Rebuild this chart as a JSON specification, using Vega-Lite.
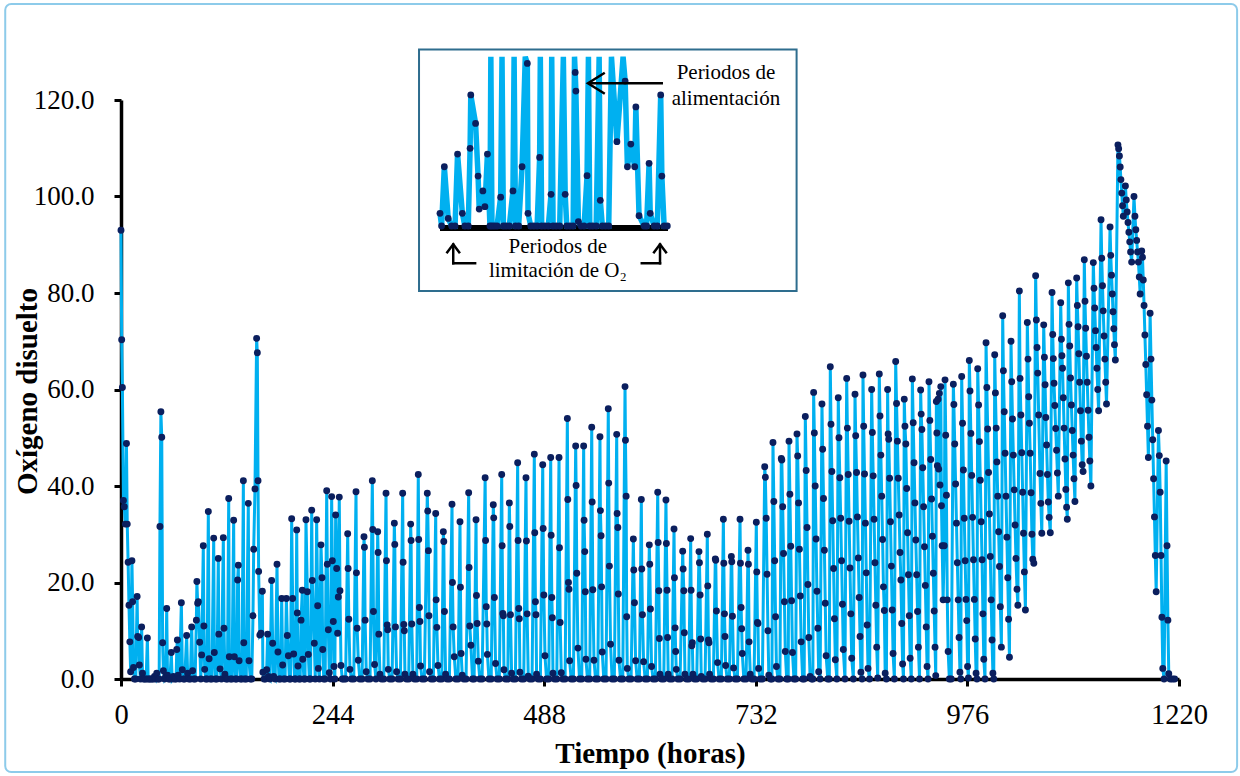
{
  "$schema": "https://vega.github.io/schema/vega-lite/v6.json",
  "width": 1058,
  "height": 579,
  "autosize": "none",
  "padding": {"left": 121, "top": 100, "right": 61, "bottom": 97},
  "background": "white",
  "config": {"view": {"stroke": null}, "font": "Liberation Serif"},
  "resolve": {"scale": {"x": "independent", "y": "independent"}},
  "datasets": {
    "serie": [
      {"h":0,"od":93.0},{"h":0.8,"od":70.3},{"h":1.6,"od":60.4},{"h":2.8,"od":37.0},{"h":3.8,"od":35.7},{"h":5.0,"od":32.1},
      {"h":6.3,"od":48.8},{"h":7.2,"od":32.1},{"h":8.2,"od":24.2},{"h":9.2,"od":15.3},{"h":10.2,"od":7.7},{"h":11.1,"od":1.5},
      {"h":12.6,"od":24.5},{"h":13.4,"od":16.0},{"h":14.4,"od":2.4},{"h":15.5,"od":0},{"h":17.0,"od":0},{"h":18.6,"od":17.1},
      {"h":19.2,"od":8.8},{"h":20.4,"od":8.6},{"h":21.2,"od":2.9},{"h":22.5,"od":0},{"h":23.8,"od":10.8},{"h":24.8,"od":1.2},
      {"h":26.0,"od":0},{"h":27.5,"od":0},{"h":29.0,"od":0},{"h":30.4,"od":8.5},{"h":31.3,"od":0},{"h":32.8,"od":0},
      {"h":34.2,"od":0},{"h":35.8,"od":0},{"h":37.2,"od":0},{"h":38.6,"od":0.5},{"h":40.0,"od":0},{"h":41.2,"od":1.2},
      {"h":42.6,"od":0},{"h":44.0,"od":0},{"h":44.9,"od":31.6},{"h":46.0,"od":55.4},{"h":47.0,"od":50.1},{"h":48.0,"od":7.5},
      {"h":48.9,"od":1.7},{"h":50.2,"od":0},{"h":51.6,"od":0.5},{"h":52.7,"od":14.6},{"h":53.6,"od":0.8},{"h":55.0,"od":0},
      {"h":56.5,"od":0},{"h":58.0,"od":5.5},{"h":59.0,"od":0},{"h":60.5,"od":0.5},{"h":62.0,"od":0},{"h":63.5,"od":0},
      {"h":64.3,"od":6.1},{"h":65.0,"od":8.1},{"h":66.0,"od":0.8},{"h":67.5,"od":0},{"h":69.6,"od":15.8},{"h":70.7,"od":1.9},
      {"h":72.0,"od":0},{"h":73.5,"od":0},{"h":75.7,"od":9.0},{"h":76.8,"od":1.2},{"h":78.3,"od":0},{"h":80.0,"od":0},
      {"h":81.5,"od":10.8},{"h":82.6,"od":1.7},{"h":84.0,"od":0},{"h":85.5,"od":0},{"h":86.9,"od":12.2},{"h":87.5,"od":20.2},
      {"h":88.4,"od":15.7},{"h":89.2,"od":16.0},{"h":90.7,"od":7.6},{"h":92.0,"od":0},{"h":93.0,"od":5.0},{"h":94.9,"od":27.6},
      {"h":95.6,"od":11.0},{"h":96.5,"od":2.0},{"h":97.8,"od":0},{"h":99.2,"od":0},{"h":100.7,"od":34.7},{"h":101.6,"od":4.2},
      {"h":103.0,"od":0},{"h":104.8,"od":0},{"h":106.9,"od":29.2},{"h":107.6,"od":5.5},{"h":109.0,"od":0},{"h":110.6,"od":0},
      {"h":112.2,"od":25.0},{"h":112.8,"od":9.3},{"h":114.2,"od":2.1},{"h":115.8,"od":0},{"h":118.0,"od":29.3},{"h":118.8,"od":10.5},
      {"h":119.8,"od":1.0},{"h":121.2,"od":0},{"h":122.7,"od":0},{"h":124.2,"od":37.4},{"h":124.9,"od":4.6},{"h":126.3,"od":0},
      {"h":128.0,"od":0},{"h":129.9,"od":32.9},{"h":130.7,"od":4.6},{"h":132.0,"od":0},{"h":133.3,"od":0},{"h":134.5,"od":20.5},
      {"h":135.3,"od":23.6},{"h":136.2,"od":3.8},{"h":137.8,"od":0},{"h":139.4,"od":0},{"h":141.1,"od":41.1},{"h":141.6,"od":7.5},
      {"h":142.8,"od":0},{"h":144.4,"od":0},{"h":146.8,"od":36.4},{"h":147.6,"od":3.8},{"h":149.2,"od":0},{"h":150.8,"od":0},
      {"h":152.2,"od":13.1},{"h":153.0,"od":26.9},{"h":154.5,"od":39.4},{"h":156.4,"od":70.6},{"h":157.2,"od":67.6},{"h":158.0,"od":41.1},
      {"h":158.7,"od":22.3},{"h":160.1,"od":9.1},{"h":161.4,"od":9.5},{"h":163.0,"od":18.2},{"h":163.6,"od":1.4},{"h":165.0,"od":0},
      {"h":166.6,"od":0},{"h":168.0,"od":1.9},{"h":169.1,"od":9.3},{"h":170.0,"od":0.5},{"h":171.8,"od":0},{"h":173.7,"od":20.4},
      {"h":174.9,"od":7.4},{"h":176.0,"od":0.5},{"h":177.8,"od":0},{"h":179.9,"od":23.8},{"h":181.0,"od":5.6},{"h":182.2,"od":0},
      {"h":183.8,"od":0},{"h":185.3,"od":16.7},{"h":186.4,"od":2.9},{"h":187.6,"od":0},{"h":189.2,"od":0},{"h":190.7,"od":16.7},
      {"h":191.8,"od":9.0},{"h":193.0,"od":4.8},{"h":194.2,"od":0},{"h":195.5,"od":0},{"h":196.8,"od":33.2},{"h":197.9,"od":16.7},
      {"h":199.1,"od":5.2},{"h":200.2,"od":0},{"h":201.4,"od":0},{"h":202.6,"od":30.9},{"h":203.3,"od":13.7},{"h":204.1,"od":2.7},
      {"h":205.3,"od":0},{"h":206.6,"od":0},{"h":207.6,"od":12.2},{"h":209.1,"od":18.4},{"h":209.6,"od":4.1},{"h":211.0,"od":0},
      {"h":212.2,"od":0},{"h":213.3,"od":33.0},{"h":214.9,"od":18.1},{"h":216.0,"od":5.1},{"h":217.2,"od":0},{"h":218.6,"od":0},
      {"h":219.9,"od":35.0},{"h":220.6,"od":20.4},{"h":222.9,"od":7.4},{"h":224.0,"od":0},{"h":225.6,"od":33.0},{"h":226.8,"od":15.2},
      {"h":227.6,"od":2.2},{"h":228.8,"od":0},{"h":230.6,"od":27.8},{"h":231.8,"od":21.0},{"h":232.6,"od":6.1},{"h":233.8,"od":0},
      {"h":235.4,"od":0},{"h":237.2,"od":39.0},{"h":237.9,"od":23.8},{"h":239.1,"od":10.2},{"h":240.2,"od":1.3},{"h":241.6,"od":0},
      {"h":242.9,"od":37.8},{"h":243.7,"od":24.5},{"h":244.8,"od":11.9},{"h":245.6,"od":2.6},{"h":246.6,"od":0},{"h":247.5,"od":34.0},
      {"h":248.7,"od":22.9},{"h":249.8,"od":9.5},{"h":250.6,"od":17.0},{"h":251.7,"od":37.7},{"h":252.5,"od":18.3},{"h":253.7,"od":2.8},
      {"h":255.2,"od":0},{"h":257.0,"od":0},{"h":259.0,"od":0},
      {"h":261.4,"od":30.1},{"h":261.9,"od":22.9},{"h":262.7,"od":12.4},{"h":264.0,"od":2.0},{"h":265.8,"od":0},{"h":268.4,"od":0},
      {"h":271.0,"od":38.8},{"h":271.5,"od":22.0},{"h":272.3,"od":10.5},{"h":273.6,"od":3.9},{"h":275.4,"od":0},{"h":278.0,"od":0},
      {"h":280.2,"od":29.5},{"h":280.7,"od":27.3},{"h":281.5,"od":12.2},{"h":282.8,"od":1.5},{"h":284.6,"od":0},{"h":287.2,"od":0},
      {"h":289.8,"od":41.1},{"h":290.3,"od":31.0},{"h":291.1,"od":14.0},{"h":292.4,"od":3.0},{"h":294.0,"od":0},
      {"h":296.0,"od":30.5},{"h":296.5,"od":26.2},{"h":297.3,"od":9.3},{"h":298.6,"od":1.0},{"h":300.4,"od":0},{"h":303.0,"od":0},
      {"h":305.6,"od":38.5},{"h":306.1,"od":24.5},{"h":306.9,"od":11.2},{"h":307.5,"od":10.2},{"h":308.2,"od":2.0},{"h":310.0,"od":0},{"h":312.6,"od":0},
      {"h":315.2,"od":32.3},{"h":315.7,"od":27.9},{"h":316.5,"od":10.8},{"h":317.8,"od":1.5},{"h":319.6,"od":0},{"h":322.2,"od":0},
      {"h":324.8,"od":38.5},{"h":325.3,"od":24.2},{"h":326.1,"od":11.3},{"h":326.7,"od":10.0},{"h":327.4,"od":1.0},{"h":329.2,"od":0},{"h":331.8,"od":0},
      {"h":334.0,"od":32.1},{"h":334.5,"od":28.7},{"h":335.3,"od":11.4},{"h":336.6,"od":1.0},{"h":338.4,"od":0},{"h":341.0,"od":0},
      {"h":342.8,"od":42.4},{"h":343.3,"od":28.9},{"h":344.1,"od":14.8},{"h":344.7,"od":11.9},{"h":345.4,"od":2.7},{"h":347.2,"od":0},{"h":349.8,"od":0},
      {"h":353.2,"od":38.5},{"h":353.7,"od":34.8},{"h":354.5,"od":26.6},{"h":355.1,"od":13.1},{"h":355.8,"od":1.5},{"h":357.6,"od":0},{"h":360.2,"od":0},
      {"h":362.9,"od":34.3},{"h":363.4,"od":16.4},{"h":364.2,"od":10.7},{"h":365.5,"od":2.8},{"h":367.3,"od":0},{"h":369.9,"od":0},
      {"h":371.7,"od":30.5},{"h":372.2,"od":28.5},{"h":373.0,"od":14.0},{"h":374.3,"od":1.0},{"h":376.1,"od":0},{"h":378.7,"od":0},
      {"h":381.7,"od":36.2},{"h":382.2,"od":20.0},{"h":383.0,"od":10.8},{"h":384.3,"od":4.6},{"h":386.1,"od":0},{"h":388.7,"od":0},
      {"h":390.9,"od":32.6},{"h":391.4,"od":19.0},{"h":392.2,"od":5.3},{"h":393.5,"od":0.8},{"h":395.3,"od":0},{"h":397.9,"od":0},
      {"h":400.9,"od":38.6},{"h":401.4,"od":23.1},{"h":402.2,"od":11.0},{"h":403.5,"od":7.0},{"h":405.3,"od":0},{"h":407.2,"od":0},
      {"h":409.4,"od":33.0},{"h":409.9,"od":17.3},{"h":410.7,"od":11.5},{"h":412.0,"od":3.7},{"h":413.8,"od":0},{"h":416.4,"od":0},
      {"h":419.9,"od":41.7},{"h":420.4,"od":28.7},{"h":421.2,"od":15.0},{"h":421.8,"od":11.4},{"h":422.5,"od":5.1},{"h":424.3,"od":0},{"h":426.9,"od":0},
      {"h":429.3,"od":36.1},{"h":429.8,"od":33.4},{"h":430.6,"od":16.9},{"h":431.9,"od":3.2},{"h":433.7,"od":0},{"h":436.3,"od":0},
      {"h":439.0,"od":42.4},{"h":439.5,"od":27.6},{"h":440.3,"od":13.6},{"h":440.9,"od":13.1},{"h":441.6,"od":1.9},{"h":443.4,"od":0},{"h":446.0,"od":0},
      {"h":447.8,"od":36.5},{"h":448.3,"od":31.6},{"h":449.1,"od":13.3},{"h":450.4,"od":1.2},{"h":452.2,"od":0},{"h":454.8,"od":0},
      {"h":457.4,"od":44.8},{"h":457.9,"od":28.7},{"h":458.7,"od":14.6},{"h":459.3,"od":12.5},{"h":460.0,"od":1.4},{"h":461.8,"od":0},{"h":464.4,"od":0},
      {"h":467.0,"od":41.7},{"h":467.5,"od":28.6},{"h":468.3,"od":13.5},{"h":469.6,"od":0.6},{"h":471.4,"od":0},{"h":474.0,"od":0},
      {"h":476.6,"od":46.6},{"h":477.1,"od":30.3},{"h":477.9,"od":16.0},{"h":478.5,"od":13.3},{"h":479.2,"od":1.0},{"h":481.0,"od":0},{"h":483.6,"od":0},
      {"h":486.3,"od":44.4},{"h":486.8,"od":31.2},{"h":487.6,"od":17.4},{"h":488.9,"od":4.8},{"h":490.7,"od":0},{"h":493.3,"od":0},
      {"h":495.5,"od":45.9},{"h":496.0,"od":29.8},{"h":496.8,"od":16.9},{"h":497.4,"od":12.7},{"h":498.1,"od":1.2},{"h":499.9,"od":0},{"h":502.5,"od":0},
      {"h":505.1,"od":45.9},{"h":505.6,"od":27.2},{"h":506.4,"od":11.7},{"h":507.7,"od":1.3},{"h":509.5,"od":0},{"h":512.1,"od":0},
      {"h":514.7,"od":54.0},{"h":515.2,"od":37.2},{"h":516.0,"od":20.0},{"h":516.6,"od":18.6},{"h":517.3,"od":3.8},{"h":519.1,"od":0},{"h":521.7,"od":0},
      {"h":524.3,"od":48.3},{"h":524.8,"od":40.1},{"h":525.6,"od":21.9},{"h":526.9,"od":6.4},{"h":528.7,"od":0},{"h":531.3,"od":0},
      {"h":533.5,"od":48.3},{"h":534.0,"od":32.9},{"h":534.8,"od":26.4},{"h":535.4,"od":18.1},{"h":536.1,"od":4.1},{"h":537.9,"od":0},{"h":540.5,"od":0},
      {"h":542.8,"od":52.2},{"h":543.3,"od":36.7},{"h":544.1,"od":18.5},{"h":545.4,"od":3.9},{"h":547.2,"od":0},{"h":549.8,"od":0},
      {"h":552.3,"od":50.2},{"h":552.8,"od":34.9},{"h":553.6,"od":29.7},{"h":554.2,"od":19.1},{"h":554.9,"od":5.6},{"h":556.7,"od":0},{"h":559.3,"od":0},
      {"h":561.9,"od":56.0},{"h":562.4,"od":40.6},{"h":563.2,"od":23.4},{"h":564.5,"od":7.2},{"h":566.3,"od":0},{"h":568.9,"od":0},
      {"h":571.6,"od":50.7},{"h":572.1,"od":34.3},{"h":572.9,"od":31.4},{"h":573.5,"od":17.6},{"h":574.2,"od":3.9},{"h":576.0,"od":0},{"h":578.6,"od":0},
      {"h":581.2,"od":60.6},{"h":581.7,"od":49.5},{"h":582.5,"od":37.9},{"h":583.1,"od":12.9},{"h":583.8,"od":2.2},{"h":585.6,"od":0},{"h":588.2,"od":0},
      {"h":590.8,"od":29.0},{"h":591.3,"od":22.6},{"h":592.1,"od":15.8},{"h":593.4,"od":3.8},{"h":595.2,"od":0},{"h":597.8,"od":0},
      {"h":600.0,"od":37.2},{"h":600.5,"od":22.8},{"h":601.3,"od":13.3},{"h":602.6,"od":3.6},{"h":604.4,"od":0},{"h":607.0,"od":0},
      {"h":609.2,"od":27.8},{"h":609.7,"od":23.8},{"h":610.5,"od":14.5},{"h":611.8,"od":2.6},{"h":613.6,"od":0},{"h":616.2,"od":0},
      {"h":618.9,"od":38.7},{"h":619.4,"od":28.3},{"h":620.2,"od":18.3},{"h":620.8,"od":8.4},{"h":621.5,"od":1.0},{"h":623.3,"od":0},{"h":625.9,"od":0},
      {"h":628.4,"od":37.1},{"h":628.9,"od":28.1},{"h":629.7,"od":18.4},{"h":630.3,"od":8.6},{"h":631.0,"od":1.0},{"h":632.8,"od":0},{"h":635.4,"od":0},
      {"h":637.7,"od":31.1},{"h":638.2,"od":21.0},{"h":639.0,"od":10.6},{"h":639.6,"od":5.7},{"h":640.3,"od":2.0},{"h":642.1,"od":0},{"h":644.7,"od":0},
      {"h":647.7,"od":26.5},{"h":648.2,"od":22.8},{"h":649.0,"od":18.3},{"h":649.6,"od":9.6},{"h":650.3,"od":1.0},{"h":652.1,"od":0},{"h":654.7,"od":0},
      {"h":656.9,"od":29.1},{"h":657.4,"od":18.4},{"h":658.2,"od":6.9},{"h":658.8,"od":7.5},{"h":659.5,"od":1.0},{"h":661.3,"od":0},{"h":663.9,"od":0},
      {"h":666.5,"od":26.4},{"h":667.0,"od":24.1},{"h":667.8,"od":17.4},{"h":668.4,"od":8.3},{"h":669.1,"od":0.5},{"h":670.9,"od":0},{"h":673.5,"od":0},
      {"h":676.1,"od":30.0},{"h":676.6,"od":19.3},{"h":677.4,"od":8.1},{"h":678.0,"od":7.5},{"h":678.7,"od":1.0},{"h":680.5,"od":0},{"h":683.1,"od":0},
      {"h":685.3,"od":24.9},{"h":685.8,"od":24.6},{"h":686.6,"od":14.1},{"h":687.9,"od":3.4},{"h":689.7,"od":0},{"h":692.3,"od":0},
      {"h":694.6,"od":33.1},{"h":695.1,"od":24.0},{"h":695.9,"od":13.5},{"h":696.5,"od":8.8},{"h":697.2,"od":2.8},{"h":699.0,"od":0},{"h":701.6,"od":0},
      {"h":703.8,"od":25.4},{"h":704.3,"od":24.3},{"h":705.1,"od":13.0},{"h":706.4,"od":2.3},{"h":708.2,"od":0},{"h":710.8,"od":0},
      {"h":713.8,"od":33.1},{"h":714.3,"od":24.0},{"h":715.1,"od":14.8},{"h":715.7,"od":10.4},{"h":716.4,"od":5.3},{"h":718.2,"od":0},{"h":720.8,"od":0},
      {"h":723.0,"od":26.7},{"h":723.5,"od":23.8},{"h":724.3,"od":7.7},{"h":725.6,"od":1.0},{"h":727.4,"od":0},{"h":730.0,"od":0},
      {"h":732.6,"od":32.5},{"h":733.1,"od":22.2},{"h":733.9,"od":11.7},{"h":734.5,"od":11.5},{"h":735.2,"od":2.2},{"h":737.0,"od":0},{"h":739.6,"od":0},
      {"h":742.3,"od":44.0},{"h":743.0,"od":41.8},{"h":744.0,"od":33.3},{"h":745.0,"od":21.7},{"h":746.0,"od":10.0},{"h":747.0,"od":0.8},{"h":749.0,"od":0},{"h":750.6,"od":0},
      {"h":751.8,"od":49.0},{"h":752.8,"od":36.8},{"h":753.8,"od":24.5},{"h":754.8,"od":12.9},{"h":755.8,"od":2.6},{"h":757.6,"od":0},{"h":759.8,"od":0},
      {"h":761.4,"od":45.7},{"h":762.0,"od":45.4},{"h":763.0,"od":35.7},{"h":764.0,"od":26.0},{"h":765.0,"od":16.0},{"h":766.0,"od":5.7},{"h":767.6,"od":0},{"h":769.4,"od":0},
      {"h":770.3,"od":49.3},{"h":771.3,"od":38.3},{"h":772.3,"od":27.5},{"h":773.3,"od":16.2},{"h":774.3,"od":5.5},{"h":776.0,"od":0},{"h":778.0,"od":0},
      {"h":779.5,"od":50.8},{"h":780.3,"od":46.2},{"h":781.3,"od":36.5},{"h":782.3,"od":26.9},{"h":783.3,"od":17.2},{"h":784.3,"od":7.7},{"h":786.0,"od":0},{"h":787.8,"od":0},
      {"h":789.1,"od":54.4},{"h":790.1,"od":43.2},{"h":791.1,"od":31.4},{"h":792.1,"od":19.6},{"h":793.1,"od":8.6},{"h":794.6,"od":0.5},{"h":796.4,"od":0},{"h":797.8,"od":0},
      {"h":798.7,"od":59.4},{"h":799.5,"od":51.0},{"h":800.5,"od":40.0},{"h":801.5,"od":29.0},{"h":802.5,"od":18.2},{"h":803.5,"od":10.5},{"h":804.5,"od":1.5},{"h":806.2,"od":0},
      {"h":808.3,"od":57.0},{"h":809.1,"od":47.6},{"h":810.1,"od":37.4},{"h":811.1,"od":26.7},{"h":812.1,"od":15.7},{"h":813.1,"od":4.8},{"h":815.0,"od":0},{"h":816.8,"od":0},
      {"h":817.9,"od":64.7},{"h":818.7,"od":52.8},{"h":819.7,"od":43.0},{"h":820.7,"od":32.8},{"h":821.7,"od":22.9},{"h":822.7,"od":12.5},{"h":823.7,"od":4.0},{"h":825.5,"od":0},
      {"h":827.1,"od":58.3},{"h":827.9,"od":50.0},{"h":828.9,"od":41.7},{"h":829.9,"od":33.3},{"h":830.9,"od":24.5},{"h":831.9,"od":15.5},{"h":832.9,"od":6.1},{"h":834.8,"od":0},
      {"h":836.8,"od":62.3},{"h":837.6,"od":52.0},{"h":838.6,"od":42.4},{"h":839.6,"od":32.7},{"h":840.6,"od":23.0},{"h":841.6,"od":13.5},{"h":842.6,"od":4.3},{"h":844.5,"od":0},
      {"h":846.4,"od":59.0},{"h":847.2,"od":50.4},{"h":848.2,"od":42.8},{"h":849.2,"od":33.6},{"h":850.2,"od":25.1},{"h":851.2,"od":16.9},{"h":852.2,"od":8.8},{"h":853.2,"od":1.4},{"h":854.5,"od":0},
      {"h":855.6,"od":63.0},{"h":856.4,"od":52.4},{"h":857.4,"od":42.5},{"h":858.4,"od":32.3},{"h":859.4,"od":22.0},{"h":860.4,"od":11.2},{"h":861.4,"od":2.2},{"h":863.2,"od":0},
      {"h":865.6,"od":60.0},{"h":866.4,"od":51.1},{"h":867.4,"od":42.1},{"h":868.4,"od":33.1},{"h":869.4,"od":24.1},{"h":870.4,"od":15.3},{"h":871.4,"od":6.6},{"h":872.6,"od":0.2},
      {"h":874.4,"od":63.2},{"h":875.2,"od":54.5},{"h":876.2,"od":46.4},{"h":877.2,"od":37.9},{"h":878.2,"od":28.9},{"h":879.2,"od":19.1},{"h":880.2,"od":14.2},{"h":881.2,"od":1.2},{"h":882.6,"od":0},
      {"h":884.0,"od":60.0},{"h":884.6,"od":50.8},{"h":885.3,"od":49.7},{"h":886.3,"od":41.6},{"h":887.3,"od":32.6},{"h":888.3,"od":23.4},{"h":889.3,"od":14.3},{"h":890.3,"od":5.3},{"h":891.8,"od":0},
      {"h":893.3,"od":65.8},{"h":894.3,"od":57.1},{"h":895.3,"od":49.3},{"h":896.3,"od":41.6},{"h":897.3,"od":34.0},{"h":898.3,"od":26.2},{"h":899.3,"od":20.5},{"h":900.3,"od":11.5},{"h":901.3,"od":3.1},{"h":902.3,"od":0},
      {"h":903.2,"od":58.0},{"h":904.0,"od":52.4},{"h":905.0,"od":48.7},{"h":906.0,"od":39.5},{"h":907.0,"od":30.3},{"h":908.0,"od":21.6},{"h":909.0,"od":13.1},{"h":910.0,"od":4.3},{"h":911.3,"od":0},
      {"h":912.5,"od":62.2},{"h":913.5,"od":53.1},{"h":914.5,"od":44.8},{"h":915.5,"od":36.5},{"h":916.5,"od":28.8},{"h":917.5,"od":21.6},{"h":918.5,"od":14.0},{"h":919.5,"od":6.6},{"h":920.8,"od":0},
      {"h":922.1,"od":59.9},{"h":922.7,"od":54.9},{"h":923.5,"od":51.7},{"h":924.5,"od":43.8},{"h":925.5,"od":35.7},{"h":926.5,"od":27.4},{"h":927.5,"od":19.4},{"h":928.5,"od":10.8},{"h":929.5,"od":2.6},{"h":930.6,"od":0},
      {"h":931.7,"od":61.6},{"h":932.7,"od":53.6},{"h":933.7,"od":45.5},{"h":934.7,"od":37.3},{"h":935.7,"od":29.6},{"h":936.7,"od":21.9},{"h":937.7,"od":14.1},{"h":938.7,"od":6.6},{"h":939.5,"od":0.7},
      {"h":940.2,"od":57.5},{"h":940.8,"od":51.0},{"h":941.4,"od":44.2},{"h":942.2,"od":58.0},{"h":942.9,"od":43.5},{"h":943.7,"od":59.2},{"h":944.4,"od":40.2},{"h":945.3,"od":60.6},
      {"h":946.1,"od":35.9},{"h":946.9,"od":27.6},{"h":948.0,"od":16.4},{"h":949.3,"od":27.6},{"h":950.2,"od":62.0},{"h":951.0,"od":50.5},{"h":951.8,"od":38.1},{"h":952.8,"od":16.4},
      {"h":953.8,"od":5.7},{"h":955.2,"od":0},{"h":957.4,"od":0},
      {"h":959.8,"od":61.1},{"h":960.4,"od":56.9},{"h":961.4,"od":48.7},{"h":962.4,"od":40.4},{"h":963.4,"od":32.3},{"h":964.4,"od":24.1},{"h":965.4,"od":16.4},{"h":966.4,"od":8.6},{"h":967.4,"od":1.4},{"h":968.4,"od":0},
      {"h":969.4,"od":62.7},{"h":970.4,"od":53.0},{"h":971.4,"od":43.3},{"h":972.4,"od":33.3},{"h":973.4,"od":24.5},{"h":974.4,"od":16.5},{"h":975.2,"od":12.1},{"h":976.2,"od":2.6},{"h":977.2,"od":0.2},
      {"h":978.2,"od":66.0},{"h":979.0,"od":59.7},{"h":980.0,"od":50.9},{"h":981.0,"od":42.2},{"h":982.0,"od":33.5},{"h":983.0,"od":24.7},{"h":984.0,"od":16.5},{"h":985.0,"od":8.3},{"h":986.0,"od":1.2},{"h":987.0,"od":0},
      {"h":987.9,"od":64.3},{"h":988.9,"od":56.8},{"h":989.9,"od":49.2},{"h":990.9,"od":41.2},{"h":991.9,"od":32.6},{"h":992.9,"od":24.7},{"h":993.9,"od":13.5},{"h":994.9,"od":4.1},{"h":996.3,"od":0},
      {"h":997.5,"od":69.7},{"h":998.4,"od":60.4},{"h":999.4,"od":51.8},{"h":1000.4,"od":42.8},{"h":1001.4,"od":34.2},{"h":1002.4,"od":25.4},{"h":1003.4,"od":16.4},{"h":1004.4,"od":8.1},{"h":1005.4,"od":1.2},{"h":1006.4,"od":0},
      {"h":1007.5,"od":67.2},{"h":1008.3,"od":59.3},{"h":1009.2,"od":52.0},{"h":1010.0,"od":45.0},{"h":1011.0,"od":37.9},{"h":1012.0,"od":30.5},{"h":1013.0,"od":23.3},{"h":1014.0,"od":15.0},{"h":1015.2,"od":6.6},
      {"h":1016.7,"od":75.3},{"h":1017.5,"od":63.9},{"h":1018.5,"od":55.4},{"h":1019.5,"od":46.8},{"h":1020.5,"od":37.9},{"h":1021.5,"od":29.4},{"h":1022.5,"od":21.0},{"h":1023.5,"od":12.4},{"h":1024.5,"od":4.5},
      {"h":1026.3,"od":70.0},{"h":1027.1,"od":61.6},{"h":1028.0,"od":53.9},{"h":1029.0,"od":46.4},{"h":1030.0,"od":39.2},{"h":1031.0,"od":31.9},{"h":1032.0,"od":25.0},{"h":1033.2,"od":18.6},{"h":1034.2,"od":15.3},
      {"h":1035.9,"od":80.4},{"h":1036.7,"od":62.3},{"h":1037.7,"od":54.7},{"h":1038.7,"od":46.9},{"h":1039.7,"od":38.7},{"h":1040.7,"od":30.2},{"h":1041.7,"od":22.2},{"h":1042.9,"od":14.3},
      {"h":1045.1,"od":73.9},{"h":1045.9,"od":66.3},{"h":1046.7,"od":58.5},{"h":1047.5,"od":53.0},{"h":1048.4,"od":46.8},{"h":1049.4,"od":38.6},{"h":1050.4,"od":30.0},{"h":1051.4,"od":24.8},{"h":1052.6,"od":24.0},
      {"h":1054.7,"od":83.6},{"h":1055.5,"od":74.4},{"h":1056.3,"od":68.7},{"h":1057.1,"od":63.4},{"h":1058.2,"od":54.7},{"h":1059.7,"od":42.6},{"h":1060.7,"od":36.4},{"h":1061.8,"od":30.2},
      {"h":1064.0,"od":73.4},{"h":1064.8,"od":66.7},{"h":1065.6,"od":61.0},{"h":1066.4,"od":54.2},{"h":1067.3,"od":48.5},{"h":1068.3,"od":42.4},{"h":1069.3,"od":36.7},{"h":1070.3,"od":33.5},{"h":1071.6,"od":30.3},
      {"h":1073.6,"od":80.1},{"h":1074.4,"od":71.4},{"h":1075.1,"od":66.4},{"h":1075.9,"od":61.3},{"h":1076.8,"od":56.7},{"h":1077.8,"od":51.9},{"h":1078.8,"od":47.4},{"h":1079.8,"od":42.7},{"h":1080.8,"od":37.9},
      {"h":1083.6,"od":78.0},{"h":1084.4,"od":70.4},{"h":1085.0,"od":67.0},{"h":1085.7,"od":64.4},{"h":1086.6,"od":58.3},{"h":1087.5,"od":52.0},{"h":1088.5,"od":45.6},{"h":1089.5,"od":39.3},{"h":1090.4,"od":35.6},{"h":1091.2,"od":33.1},
      {"h":1092.4,"od":82.1},{"h":1093.2,"od":73.5},{"h":1094.0,"od":69.0},{"h":1094.9,"od":62.4},{"h":1095.9,"od":56.8},{"h":1096.9,"od":51.5},{"h":1097.9,"od":46.4},{"h":1098.9,"od":41.5},{"h":1100.0,"od":36.8},
      {"h":1102.0,"od":83.1},{"h":1102.8,"od":77.4},{"h":1103.6,"od":73.0},{"h":1104.5,"od":67.4},{"h":1105.4,"od":61.5},{"h":1106.4,"od":55.6},{"h":1107.4,"od":49.3},{"h":1108.4,"od":44.4},{"h":1109.4,"od":43.0},
      {"h":1110.8,"od":86.9},{"h":1111.6,"od":78.3},{"h":1112.4,"od":72.7},{"h":1113.3,"od":66.9},{"h":1114.2,"od":61.5},{"h":1115.2,"od":55.7},{"h":1116.2,"od":50.1},{"h":1117.2,"od":45.2},{"h":1118.4,"od":40.0},
      {"h":1121.2,"od":86.3},{"h":1122.0,"od":81.0},{"h":1122.8,"od":76.9},{"h":1123.7,"od":72.2},{"h":1124.5,"od":68.7},{"h":1125.3,"od":64.4},{"h":1126.3,"od":60.0},{"h":1127.3,"od":55.6},
      {"h":1130.1,"od":95.2},{"h":1130.9,"od":87.2},{"h":1131.8,"od":81.5},{"h":1132.6,"od":76.3},{"h":1133.6,"od":71.1},{"h":1134.5,"od":66.3},{"h":1135.5,"od":61.5},{"h":1136.4,"od":57.0},
      {"h":1140.5,"od":93.7},{"h":1141.3,"od":87.8},{"h":1142.2,"od":83.7},{"h":1143.1,"od":79.8},{"h":1143.9,"od":76.1},{"h":1144.8,"od":72.6},{"h":1145.6,"od":69.3},{"h":1146.6,"od":66.1},
      {"h":1149.6,"od":110.7},{"h":1150.4,"od":109.9},{"h":1151.3,"od":108.4},{"h":1152.2,"od":106.1},{"h":1153.0,"od":103.5},{"h":1154.0,"od":100.7},{"h":1154.9,"od":98.1},{"h":1155.8,"od":95.9},
      {"h":1158.2,"od":102.2},{"h":1159.2,"od":99.3},{"h":1160.2,"od":96.8},{"h":1161.2,"od":94.6},{"h":1162.2,"od":92.6},{"h":1163.2,"od":90.6},{"h":1164.2,"od":88.5},{"h":1165.4,"od":86.4},
      {"h":1168.1,"od":100.0},{"h":1169.2,"od":95.9},{"h":1170.2,"od":93.1},{"h":1171.2,"od":90.9},{"h":1172.2,"od":88.5},{"h":1173.2,"od":86.4},{"h":1174.2,"od":83.3},{"h":1175.2,"od":79.8},
      {"h":1177.0,"od":88.7},{"h":1177.9,"od":87.4},{"h":1178.8,"od":82.7},{"h":1179.7,"od":77.4},{"h":1180.7,"od":71.3},{"h":1181.7,"od":65.2},{"h":1182.7,"od":58.9},{"h":1183.7,"od":52.4},{"h":1184.7,"od":45.9},
      {"h":1186.7,"od":75.8},{"h":1187.7,"od":66.3},{"h":1188.7,"od":57.8},{"h":1189.7,"od":49.6},{"h":1190.7,"od":41.5},{"h":1191.7,"od":33.6},{"h":1192.7,"od":25.6},{"h":1193.7,"od":18.1},
      {"h":1196.3,"od":51.5},{"h":1197.3,"od":46.3},{"h":1198.3,"od":38.7},{"h":1199.3,"od":25.6},{"h":1200.3,"od":12.8},{"h":1201.3,"od":2.2},{"h":1202.8,"od":0},
      {"h":1205.2,"od":45.2},{"h":1206.2,"od":27.6},{"h":1207.2,"od":12.2},{"h":1208.2,"od":1.1},{"h":1210.0,"od":0},{"h":1212.5,"od":0},{"h":1215.0,"od":0}
    ],
    "detalle": [
      {"t":0.0,"v":7.5},{"t":0.7,"v":0},{"t":1.9,"v":35},{"t":3.6,"v":4.5},{"t":5.1,"v":0},{"t":6.6,"v":0},{"t":7.7,"v":42.5},
      {"t":9.8,"v":7.5},{"t":10.9,"v":0},{"t":12.4,"v":0},{"t":13.2,"v":45.9},{"t":13.5,"v":77.4},{"t":15.6,"v":60.6},{"t":16.7,"v":29.5},
      {"t":17.2,"v":10},{"t":18.8,"v":20.7},{"t":19.7,"v":11.4},{"t":20.8,"v":42.5},{"t":21.9,"v":0},{"t":22.3,"v":100},{"t":22.8,"v":0},
      {"t":23.8,"v":0},{"t":25.0,"v":0},{"t":26.6,"v":17},{"t":27.2,"v":100},{"t":27.8,"v":0},{"t":29.0,"v":0},{"t":30.4,"v":0},
      {"t":32.0,"v":20.7},{"t":32.5,"v":100},{"t":33.1,"v":0},{"t":34.5,"v":0},{"t":36.0,"v":35},{"t":37.4,"v":100},{"t":38.3,"v":96},
      {"t":38.6,"v":7.5},{"t":39.8,"v":0},{"t":41.2,"v":0},{"t":42.6,"v":0},{"t":43.7,"v":40.5},{"t":44.0,"v":100},{"t":44.6,"v":0},
      {"t":46.0,"v":0},{"t":47.5,"v":0},{"t":48.7,"v":18.7},{"t":49.0,"v":100},{"t":49.6,"v":0},{"t":51.0,"v":0},{"t":52.5,"v":0},
      {"t":54.1,"v":100},{"t":54.9,"v":18.7},{"t":55.6,"v":0},{"t":57.0,"v":0},{"t":58.4,"v":0},{"t":59.0,"v":100},{"t":59.3,"v":90.7},
      {"t":59.6,"v":79.7},{"t":60.7,"v":2.6},{"t":61.8,"v":0},{"t":63.2,"v":0},{"t":64.5,"v":29.7},{"t":65.1,"v":100},{"t":65.7,"v":0},
      {"t":67.0,"v":0},{"t":68.5,"v":0},{"t":69.8,"v":100},{"t":70.3,"v":15.2},{"t":71.2,"v":0},{"t":72.6,"v":0},{"t":74.0,"v":0},
      {"t":75.2,"v":100},{"t":77.6,"v":49.8},{"t":80.3,"v":100},{"t":81.2,"v":85.6},{"t":82.2,"v":35},{"t":83.7,"v":48.4},{"t":85.4,"v":35},
      {"t":85.9,"v":70.3},{"t":87.3,"v":6.1},{"t":89.5,"v":0},{"t":90.6,"v":0},{"t":91.7,"v":37},{"t":92.2,"v":7.5},{"t":93.9,"v":0},
      {"t":95.3,"v":0},{"t":96.8,"v":77.4},{"t":97.3,"v":29.5},{"t":98.3,"v":0},{"t":99.7,"v":0}
    ]
  },
  "layer": [
    {
      "data": {"values": [{}]},
      "mark": {"type": "rect", "fill": "transparent", "stroke": "#8DCBEA", "strokeWidth": 2, "cornerRadius": 6},
      "encoding": {
        "x": {"datum": -133.5, "type": "quantitative", "scale": {"domain": [0, 1220], "nice": false, "zero": false}, "axis": null},
        "x2": {"datum": 1287},
        "y": {"datum": 139.9, "type": "quantitative", "scale": {"domain": [0, 120], "nice": false, "zero": false}, "axis": null},
        "y2": {"datum": -19.3}
      }
    },
    {
      "data": {"name": "serie"},
      "mark": {"type": "line", "color": "#00B0F0", "strokeWidth": 3},
      "encoding": {
        "x": {
          "field": "h", "type": "quantitative",
          "scale": {"domain": [0, 1220], "nice": false, "zero": false},
          "axis": {
            "values": [0, 244, 488, 732, 976, 1220], "format": "d", "title": "Tiempo (horas)", "grid": false,
            "domainColor": "black", "domainWidth": 3.5, "tickColor": "black", "tickWidth": 3, "tickSize": 7,
            "labelFont": "Liberation Serif", "labelFontSize": 28.5, "labelColor": "black", "labelPadding": 37,
            "labelBaseline": "alphabetic", "labelFlush": false, "labelOverlap": false,
            "titleFont": "Liberation Serif", "titleFontSize": 29, "titleFontWeight": "bold", "titleColor": "black",
            "titleY": 83, "titleBaseline": "alphabetic"
          }
        },
        "y": {
          "field": "od", "type": "quantitative",
          "scale": {"domain": [0, 120], "nice": false, "zero": false},
          "axis": {
            "values": [0, 20, 40, 60, 80, 100, 120], "format": ".1f", "title": "Oxígeno disuelto", "grid": false,
            "domainColor": "black", "domainWidth": 3.5, "tickColor": "black", "tickWidth": 3, "tickSize": 7,
            "labelFont": "Liberation Serif", "labelFontSize": 27, "labelColor": "black", "labelPadding": 20,
            "labelOverlap": false,
            "titleFont": "Liberation Serif", "titleFontSize": 29, "titleFontWeight": "bold", "titleColor": "black",
            "titleX": -94, "titleY": 291, "titleBaseline": "middle"
          }
        }
      }
    },
    {
      "data": {"name": "serie"},
      "mark": {"type": "circle", "size": 48, "color": "#0B1F5E", "opacity": 1},
      "encoding": {
        "x": {"field": "h", "type": "quantitative", "scale": {"domain": [0, 1220], "nice": false, "zero": false}, "axis": null},
        "y": {"field": "od", "type": "quantitative", "scale": {"domain": [0, 120], "nice": false, "zero": false}, "axis": null}
      }
    },
    {
      "data": {"values": [{}]},
      "mark": {"type": "rect", "fill": "white", "stroke": "#2E6D8E", "strokeWidth": 2},
      "encoding": {
        "x": {"datum": -9.2, "type": "quantitative", "scale": {"domain": [0, 100], "range": [319, 547], "nice": false, "zero": false}, "axis": null},
        "x2": {"datum": 156.4},
        "y": {"datum": 104.3, "type": "quantitative", "scale": {"domain": [0, 100], "range": [126, -43.3], "nice": false, "zero": false}, "axis": null},
        "y2": {"datum": -38.4}
      }
    },
    {
      "data": {"values": [{}]},
      "mark": {"type": "rule", "color": "black", "strokeWidth": 6},
      "encoding": {
        "x": {"datum": 0, "type": "quantitative", "scale": {"domain": [0, 100], "range": [319, 547], "nice": false, "zero": false}, "axis": null},
        "x2": {"datum": 100},
        "y": {"datum": -1.2, "type": "quantitative", "scale": {"domain": [0, 100], "range": [126, -43.3], "nice": false, "zero": false}, "axis": null}
      }
    },
    {
      "data": {"name": "detalle"},
      "mark": {"type": "line", "color": "#00B0F0", "strokeWidth": 5.5},
      "encoding": {
        "x": {"field": "t", "type": "quantitative", "scale": {"domain": [0, 100], "range": [319, 547], "nice": false, "zero": false}, "axis": null},
        "y": {"field": "v", "type": "quantitative", "scale": {"domain": [0, 100], "range": [126, -43.3], "nice": false, "zero": false}, "axis": null}
      }
    },
    {
      "data": {"name": "detalle"},
      "transform": [{"filter": "datum.v < 100"}],
      "mark": {"type": "circle", "size": 46, "color": "#0B1F5E", "opacity": 1},
      "encoding": {
        "x": {"field": "t", "type": "quantitative", "scale": {"domain": [0, 100], "range": [319, 547], "nice": false, "zero": false}, "axis": null},
        "y": {"field": "v", "type": "quantitative", "scale": {"domain": [0, 100], "range": [126, -43.3], "nice": false, "zero": false}, "axis": null}
      }
    },
    {
      "data": {"values": [{}]},
      "mark": {"type": "text", "text": "Periodos de", "font": "Liberation Serif", "fontSize": 21, "align": "center", "baseline": "alphabetic", "color": "black"},
      "encoding": {
        "x": {"datum": 125.4, "type": "quantitative", "scale": {"domain": [0, 100], "range": [319, 547], "nice": false, "zero": false}, "axis": null},
        "y": {"datum": 86.6, "type": "quantitative", "scale": {"domain": [0, 100], "range": [126, -43.3], "nice": false, "zero": false}, "axis": null}
      }
    },
    {
      "data": {"values": [{}]},
      "mark": {"type": "text", "text": "alimentación", "font": "Liberation Serif", "fontSize": 21, "align": "center", "baseline": "alphabetic", "color": "black"},
      "encoding": {
        "x": {"datum": 125.4, "type": "quantitative", "scale": {"domain": [0, 100], "range": [319, 547], "nice": false, "zero": false}, "axis": null},
        "y": {"datum": 71.5, "type": "quantitative", "scale": {"domain": [0, 100], "range": [126, -43.3], "nice": false, "zero": false}, "axis": null}
      }
    },
    {
      "data": {"values": [{}]},
      "mark": {"type": "text", "text": "Periodos de", "font": "Liberation Serif", "fontSize": 21, "align": "center", "baseline": "alphabetic", "color": "black"},
      "encoding": {
        "x": {"datum": 51.7, "type": "quantitative", "scale": {"domain": [0, 100], "range": [319, 547], "nice": false, "zero": false}, "axis": null},
        "y": {"datum": -16.1, "type": "quantitative", "scale": {"domain": [0, 100], "range": [126, -43.3], "nice": false, "zero": false}, "axis": null}
      }
    },
    {
      "data": {"values": [{}]},
      "mark": {"type": "text", "text": "limitación de O₂", "font": "Liberation Serif", "fontSize": 21, "align": "center", "baseline": "alphabetic", "color": "black"},
      "encoding": {
        "x": {"datum": 51.7, "type": "quantitative", "scale": {"domain": [0, 100], "range": [319, 547], "nice": false, "zero": false}, "axis": null},
        "y": {"datum": -29.9, "type": "quantitative", "scale": {"domain": [0, 100], "range": [126, -43.3], "nice": false, "zero": false}, "axis": null}
      }
    },
    {
      "data": {"values": [{}]},
      "mark": {"type": "rule", "color": "black", "strokeWidth": 2.5},
      "encoding": {
        "x": {"datum": 65.2, "type": "quantitative", "scale": {"domain": [0, 100], "range": [319, 547], "nice": false, "zero": false}, "axis": null},
        "x2": {"datum": 97.8},
        "y": {"datum": 84.3, "type": "quantitative", "scale": {"domain": [0, 100], "range": [126, -43.3], "nice": false, "zero": false}, "axis": null}
      }
    },
    {
      "data": {"values": [{}]},
      "mark": {"type": "point", "shape": "M1.6,-1L0,0L1.6,1", "size": 441, "filled": false, "color": "black", "strokeWidth": 2.5, "opacity": 1},
      "encoding": {
        "x": {"datum": 64.9, "type": "quantitative", "scale": {"domain": [0, 100], "range": [319, 547], "nice": false, "zero": false}, "axis": null},
        "y": {"datum": 84.3, "type": "quantitative", "scale": {"domain": [0, 100], "range": [126, -43.3], "nice": false, "zero": false}, "axis": null}
      }
    },
    {
      "data": {"values": [{}]},
      "mark": {"type": "rule", "color": "black", "strokeWidth": 2.5, "strokeCap": "square"},
      "encoding": {
        "x": {"datum": 5.8, "type": "quantitative", "scale": {"domain": [0, 100], "range": [319, 547], "nice": false, "zero": false}, "axis": null},
        "y": {"datum": -11.0, "type": "quantitative", "scale": {"domain": [0, 100], "range": [126, -43.3], "nice": false, "zero": false}, "axis": null},
        "y2": {"datum": -22.0}
      }
    },
    {
      "data": {"values": [{}]},
      "mark": {"type": "rule", "color": "black", "strokeWidth": 2.5, "strokeCap": "square"},
      "encoding": {
        "x": {"datum": 5.8, "type": "quantitative", "scale": {"domain": [0, 100], "range": [319, 547], "nice": false, "zero": false}, "axis": null},
        "x2": {"datum": 15.4},
        "y": {"datum": -22.0, "type": "quantitative", "scale": {"domain": [0, 100], "range": [126, -43.3], "nice": false, "zero": false}, "axis": null}
      }
    },
    {
      "data": {"values": [{}]},
      "mark": {"type": "rule", "color": "black", "strokeWidth": 2.5, "strokeCap": "square"},
      "encoding": {
        "x": {"datum": 96.5, "type": "quantitative", "scale": {"domain": [0, 100], "range": [319, 547], "nice": false, "zero": false}, "axis": null},
        "y": {"datum": -11.0, "type": "quantitative", "scale": {"domain": [0, 100], "range": [126, -43.3], "nice": false, "zero": false}, "axis": null},
        "y2": {"datum": -22.0}
      }
    },
    {
      "data": {"values": [{}]},
      "mark": {"type": "rule", "color": "black", "strokeWidth": 2.5, "strokeCap": "square"},
      "encoding": {
        "x": {"datum": 88.5, "type": "quantitative", "scale": {"domain": [0, 100], "range": [319, 547], "nice": false, "zero": false}, "axis": null},
        "x2": {"datum": 96.5},
        "y": {"datum": -22.0, "type": "quantitative", "scale": {"domain": [0, 100], "range": [126, -43.3], "nice": false, "zero": false}, "axis": null}
      }
    },
    {
      "data": {"values": [{}]},
      "mark": {"type": "point", "shape": "M-1,1.35L0,0L1,1.35", "size": 180, "filled": false, "color": "black", "strokeWidth": 2.5, "opacity": 1},
      "encoding": {
        "x": {"datum": 5.8, "type": "quantitative", "scale": {"domain": [0, 100], "range": [319, 547], "nice": false, "zero": false}, "axis": null},
        "y": {"datum": -10.8, "type": "quantitative", "scale": {"domain": [0, 100], "range": [126, -43.3], "nice": false, "zero": false}, "axis": null}
      }
    },
    {
      "data": {"values": [{}]},
      "mark": {"type": "point", "shape": "M-1,1.35L0,0L1,1.35", "size": 180, "filled": false, "color": "black", "strokeWidth": 2.5, "opacity": 1},
      "encoding": {
        "x": {"datum": 96.5, "type": "quantitative", "scale": {"domain": [0, 100], "range": [319, 547], "nice": false, "zero": false}, "axis": null},
        "y": {"datum": -10.8, "type": "quantitative", "scale": {"domain": [0, 100], "range": [126, -43.3], "nice": false, "zero": false}, "axis": null}
      }
    }
  ]
}
